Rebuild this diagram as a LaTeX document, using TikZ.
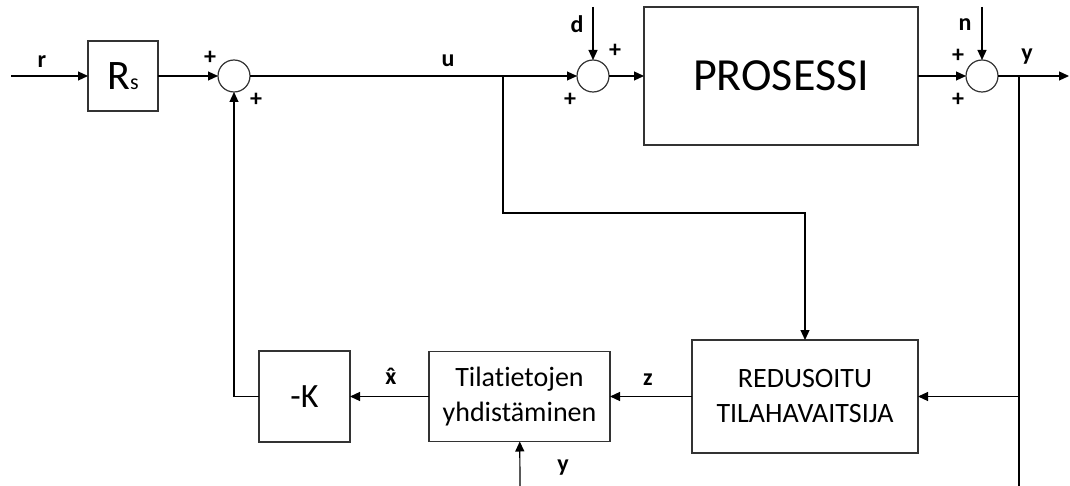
\documentclass[tikz,border=0pt]{standalone}
\usepackage{fontspec}
\setmainfont{Carlito}[Ligatures=NoCommon]
\usetikzlibrary{positioning,arrows.meta}

\begin{document}
\begin{tikzpicture}[x=1pt, y=-1pt, node distance=60pt, line width=1.2pt,
  every node/.style={font=\fontsize{24}{28}\selectfont\bfseries},
  >={Triangle[length=10pt,width=9pt]}]
\tikzstyle{box}=[draw=black!80, minimum height=70pt, align=center, inner sep=0pt, outer sep=0pt, font=\fontsize{28}{35}\selectfont]
\tikzstyle{sum}=[draw=black!80, circle, minimum size=32pt, inner sep=0pt, outer sep=0pt]
\tikzstyle{lbl}=[inner sep=0pt]
\useasboundingbox (0,0) rectangle (1070,486);
% forward path
\node[box, minimum width=70pt, font=\fontsize{42}{42}\selectfont] (rs) at (123,76) {R\fontsize{22}{22}\selectfont s};
\node[sum, right=60pt of rs] (sum1) {};
\node[sum, right=327pt of sum1] (sum2) {};
\node[box, right=35pt of sum2, minimum width=274pt, minimum height=138pt, font=\fontsize{46}{46}\selectfont] (proc) {PROSESSI};
\node[sum, right=48pt of proc] (sum3) {};
% observer path
\node[box, minimum width=226pt, minimum height=113pt] (obs) at (805,396.5) {REDUSOITU\\TILAHAVAITSIJA};
\node[box, left=82pt of obs, minimum width=181pt, minimum height=90pt] (tilat) {Tilatietojen\\yhdistäminen};
\node[box, left=79pt of tilat, minimum width=91pt, minimum height=91pt, font=\fontsize{34}{34}\selectfont] (gainK) {-K};
\coordinate (rin) at (11,76);
\coordinate (uSplit) at (503,76);
\coordinate (din) at (sum2 |- 0,7);
\coordinate (nin) at (sum3 |- 0,7);
\coordinate (ySplit) at (1019,76);
\coordinate (yout) at (1069,76);
\coordinate (yend) at (1019,486);
\coordinate (yin) at (520,486);
% signals
\node[lbl] (rlbl) at (42,62) {r};
\node[lbl] (ulbl) at (448,61) {u};
\node[lbl] (dlbl) at (577,24) {d};
\node[lbl] (nlbl) at (965,25) {n};
\node[lbl] (ylbl) at (1027,57) {y};
\node[lbl] (zlbl) at (648,380) {z};
\node[lbl] (xlbl) at (391,376) {\accent"02C6 x};
\node[lbl] (yinlbl) at (563,468) {y};
\node[lbl] (p1a) at (210,58) {+};
\node[lbl] (p1b) at (256,100) {+};
\node[lbl] (p2a) at (615,51) {+};
\node[lbl] (p2b) at (570,100) {+};
\node[lbl] (p3a) at (958,56) {+};
\node[lbl] (p3b) at (958,100) {+};
\draw[->] (rin) -- (rs);
\draw[->] (rs) -- (sum1);
\draw[->] (sum1) -- (sum2);
\draw[->] (din) -- (sum2);
\draw[->] (sum2) -- (proc);
\draw[->] (proc) -- (sum3);
\draw[->] (nin) -- (sum3);
\draw[->] (sum3) -- (yout);
\draw[->] (uSplit) -- ++(0,137) -| (obs);
\draw (ySplit) -- (yend);
\draw[->] (ySplit |- obs.east) -- (obs);
\draw[->] (obs) -- (tilat);
\draw[->] (tilat) -- (gainK);
\draw[->] (gainK) -| (sum1);
\draw[->] (yin) -- (tilat);
\end{tikzpicture}
\end{document}
